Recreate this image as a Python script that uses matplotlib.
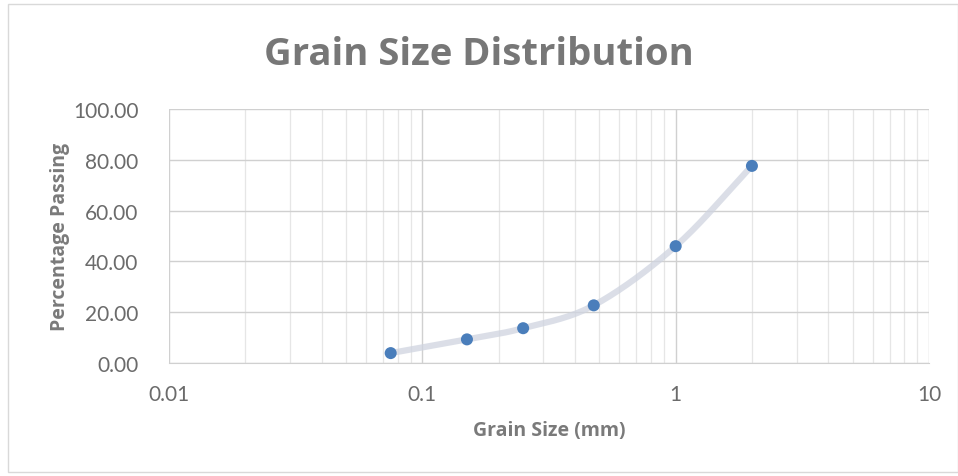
import numpy as np
import matplotlib
matplotlib.use("Agg")
import matplotlib.pyplot as plt
from matplotlib.ticker import LogLocator, FixedLocator, NullFormatter, FuncFormatter
from matplotlib.patches import Rectangle

grain_size = [0.075, 0.15, 0.25, 0.475, 1.0, 2.0]
percent_passing = [3.9, 9.3, 13.7, 22.7, 46.0, 77.6]
x_ticks = [0.01, 0.1, 1, 10]
x_tick_labels = ["0.01", "0.1", "1", "10"]
y_ticks = [0, 20, 40, 60, 80, 100]

plt.rcParams['font.family'] = ['Lato', 'DejaVu Sans']
bold_font = ['Open Sans', 'DejaVu Sans']

W, H = 958, 477
fig = plt.figure(figsize=(W/100, H/100), dpi=100)
fig.patch.set_facecolor('white')
x0, x1, ytop, ybot = 169, 929, 110, 364
ax = fig.add_axes([x0/W, 1-ybot/H, (x1-x0)/W, (ybot-ytop)/H])

# smooth line (Catmull-Rom in log-x space)
lx = np.log10(grain_size)
py = np.array(percent_passing, dtype=float)
P = np.column_stack([lx, py])
pts = np.vstack([P[0] - (P[1]-P[0]), P, P[-1] + (P[-1]-P[-2])])
curve = []
for i in range(1, len(pts)-2):
    p0, p1, p2, p3 = pts[i-1], pts[i], pts[i+1], pts[i+2]
    t = np.linspace(0, 1, 30)[:, None]
    seg = 0.5*((2*p1) + (-p0+p2)*t + (2*p0-5*p1+4*p2-p3)*t**2 + (-p0+3*p1-3*p2+p3)*t**3)
    curve.append(seg)
curve = np.vstack(curve)
ax.plot(10**curve[:, 0], curve[:, 1], color='#cfd4e0', lw=4.5, alpha=0.75, solid_capstyle='round', zorder=3)
ax.scatter(grain_size, percent_passing, s=75, color='#4a7ebb', zorder=4, edgecolors='none')

ax.set_xscale('log')
ax.set_xlim(0.01, 10)
ax.set_ylim(0, 100)
ax.xaxis.set_major_locator(FixedLocator(x_ticks))
ax.xaxis.set_major_formatter(FuncFormatter(lambda v, p: x_tick_labels[x_ticks.index(v)] if v in x_ticks else ""))
ax.xaxis.set_minor_locator(LogLocator(base=10, subs=np.arange(2, 10)))
ax.xaxis.set_minor_formatter(NullFormatter())
ax.set_yticks(y_ticks)
ax.yaxis.set_major_formatter(FuncFormatter(lambda v, p: f"{v:.2f}"))

ax.grid(True, which='major', color='#d0d0d0', lw=1.0)
ax.grid(True, which='minor', axis='x', color='#e6e6e6', lw=0.9)
ax.set_axisbelow(True)
for s in ['top', 'right', 'left']:
    ax.spines[s].set_visible(False)
ax.spines['bottom'].set_color('#d0d0d0')
ax.tick_params(which='both', length=0, colors='#6b6b6b', labelsize=15)
ax.tick_params(axis='x', pad=15)
ax.tick_params(axis='y', pad=22)

ax.set_xlabel('Grain Size (mm)', fontsize=14, fontweight='bold', color='#7a7a7a', family=bold_font)
ax.set_ylabel('Percentage Passing', fontsize=14, fontweight='bold', color='#7a7a7a', family=bold_font)
ax.xaxis.set_label_coords(0.5, (ybot-421)/(ybot-ytop))
ax.yaxis.set_label_coords((70-x0)/(x1-x0), 0.5)
fig.text(0.5, 1-55/H, 'Grain Size Distribution', ha='center', va='center',
         fontsize=27.5, fontweight='bold', color='#777777', family=bold_font)

fig.add_artist(Rectangle((8/W, 4/H), 1-8/W, 1-9/H, transform=fig.transFigure,
                         fill=False, edgecolor='#d9d9d9', lw=1))

fig.savefig('out.png', dpi=100)
